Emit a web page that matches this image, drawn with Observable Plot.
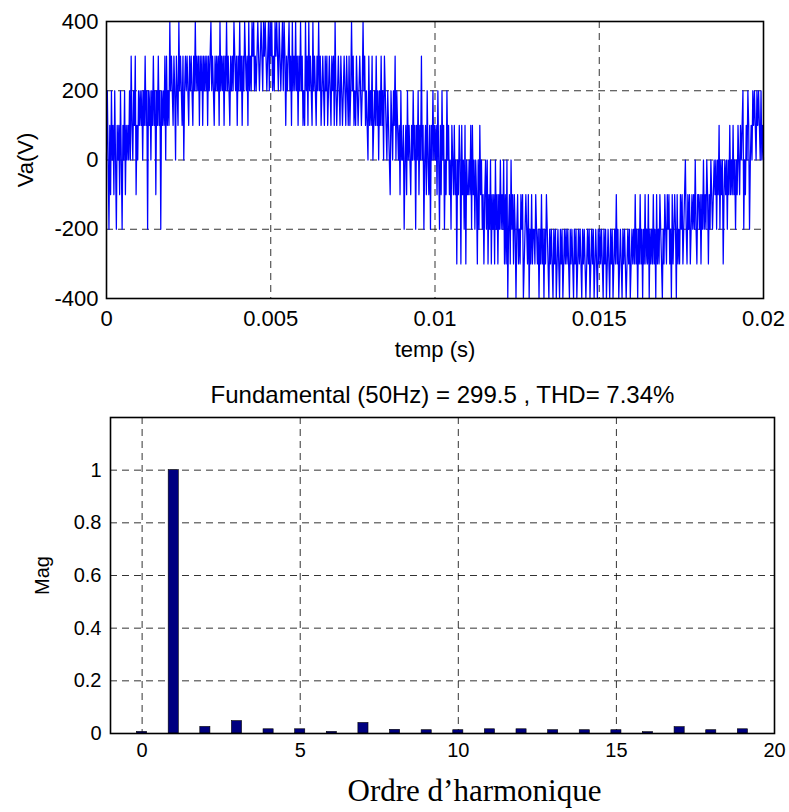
<!DOCTYPE html>
<html><head><meta charset="utf-8">
<script src="https://cdn.jsdelivr.net/npm/d3@7"></script>
<script src="https://cdn.jsdelivr.net/npm/@observablehq/plot@0.6"></script>
<style>
html,body{margin:0;padding:0;background:#fff;}
#wrap{position:relative;width:789px;height:812px;overflow:hidden;background:#fff;}
#top,#bottom{position:absolute;left:0;}
#top{top:0;}
#bottom{top:370px;}
</style></head><body>
<div id="wrap"><div id="top"></div><div id="bottom"></div></div>
<script>
// ---------- top panel data: Va(V) versus time ----------
const timeDomain = [0, 0.02];
const voltageDomain = [-400, 400];
const timeTicks = [0, 0.005, 0.01, 0.015, 0.02];
const voltageTicks = [-400, -200, 0, 200, 400];
// level code -> voltage (V)
const levelValues = [-400, -300, -200, -100, 0, 100, 200, 300, 400];
const waveSegments = [
  "4642536453" + "6425453642" + "5463545464" + "7546573546",
  "5656465756" + "2656465756" + "3657562656" + "5747565867",
  "6576476586" + "7657467676" + "5767657686" + "7675767576",
  "7675767867" + "6576767586" + "7675768676" + "5767687675",
  "7686757687" + "6758676878" + "6767876787" + "6878767868",
  "7867687876" + "8767868757" + "6786758676" + "8675768675",
  "6586758676" + "5867657686" + "7567657675" + "6765767586",
  "5676576567" + "6576575686" + "7565765676" + "5686756547",
  "5657456575" + "6465756476" + "5465436546" + "5746545364",
  "4524536454" + "3546452546" + "3547452453" + "6435254645",
  "4536425364" + "5243645342" + "5435341435" + "4153425143",
  "3435253424" + "3142534231" + "3424132413" + "2314231324",
  "2324131402" + "3142313202" + "3121323012" + "3213021312",
  "2132120213" + "1202132102" + "1210212012" + "1021201212",
  "1210212102" + "1201212102" + "1210121201" + "2120121021",
  "2121021201" + "2102120121" + "3120121021" + "2101212012",
  "1213120213" + "1202131213" + "0212131203" + "1213210213",
  "2132312031" + "2320312132" + "3123421323" + "1232324213",
  "3231324232" + "4313243234" + "3424352434" + "1343424353",
  "4353424354" + "3545624354" + "6524546565" + "4656546454"
];

// ---------- bottom panel data: harmonic spectrum ----------
const harmonicOrder = [0,1,2,3,4,5,6,7,8,9,10,11,12,13,14,15,16,17,18,19];
const harmonicMag = [0.006,1,0.025,0.047,0.016,0.016,0.006,0.04,0.014,0.0125,0.0125,0.016,0.016,0.0125,0.0125,0.0125,0.005,0.024,0.0125,0.016];
const orderDomain = [-1, 20];
const magDomain = [0, 1.2];
const orderTicks = [0, 5, 10, 15, 20];
const magTicks = [0, 0.2, 0.4, 0.6, 0.8, 1];
const titleText = "Fundamental (50Hz) = 299.5 , THD= 7.34%";
const xLabelBottom = "Ordre d\u2019harmonique";

const SANS = "Arial, 'Liberation Sans', Helvetica, sans-serif";
const SERIF = "'Times New Roman', 'Liberation Serif', Times, serif";

const codes = waveSegments.join("").split("").map(Number);
const N = codes.length;
const wave = codes.map((c, i) => ({t: timeDomain[1] * i / (N - 1), v: levelValues[c]}));
const harm = harmonicOrder.map((h, i) => ({h, m: harmonicMag[i]}));

const gridStyle = {stroke: "#000", strokeOpacity: 0.8, strokeDasharray: "7,5", strokeWidth: 1};

const topPlot = Plot.plot({
  width: 789, height: 370,
  marginLeft: 106, marginRight: 26, marginTop: 21, marginBottom: 72,
  style: {background: "#fff", color: "#000", fontFamily: SANS},
  x: {domain: timeDomain},
  y: {domain: voltageDomain},
  marks: [
    Plot.gridX(timeTicks, gridStyle),
    Plot.gridY(voltageTicks, gridStyle),
    Plot.line(wave, {x: "t", y: "v", stroke: "#0000ff", strokeWidth: 1.25}),
    Plot.frame({stroke: "#000", strokeWidth: 1.6}),
    Plot.axisX(timeTicks, {tickSize: 0, tickPadding: 12, tickFormat: d => String(d), fontSize: 22,
      label: "temp (s)", labelAnchor: "center", labelOffset: 58, labelArrow: "none"}),
    Plot.axisY(voltageTicks, {tickSize: 0, tickPadding: 8, tickFormat: d => String(d), fontSize: 22,
      label: "Va(V)", labelAnchor: "center", labelOffset: 89, labelArrow: "none"})
  ]
});
document.getElementById("top").appendChild(topPlot);

const bottomPlot = Plot.plot({
  width: 789, height: 442,
  marginLeft: 110, marginRight: 15, marginTop: 47, marginBottom: 79,
  style: {background: "#fff", color: "#000", fontFamily: SANS},
  x: {domain: orderDomain},
  y: {domain: magDomain},
  marks: [
    Plot.gridX(orderTicks, gridStyle),
    Plot.gridY(magTicks, gridStyle),
    Plot.rect(harm, {x1: d => d.h - 0.16, x2: d => d.h + 0.16, y1: 0, y2: "m",
      fill: "#000080", stroke: "#000", strokeWidth: 0.6}),
    Plot.frame({stroke: "#000", strokeWidth: 1.6}),
    Plot.axisX(orderTicks, {tickSize: 0, tickPadding: 9, tickFormat: d => String(d), fontSize: 20, label: null}),
    Plot.axisY(magTicks, {tickSize: 0, tickPadding: 9, tickFormat: d => String(d), fontSize: 20,
      label: "Mag", labelAnchor: "center", labelOffset: 76, labelArrow: "none"}),
    Plot.text([titleText], {text: d => d, frameAnchor: "top", dy: -32, fontSize: 24}),
    Plot.text([xLabelBottom], {text: d => d, frameAnchor: "bottom", dx: 32, dy: 67, fontSize: 31, fontFamily: SERIF})
  ]
});
document.getElementById("bottom").appendChild(bottomPlot);
</script>
</body></html>
